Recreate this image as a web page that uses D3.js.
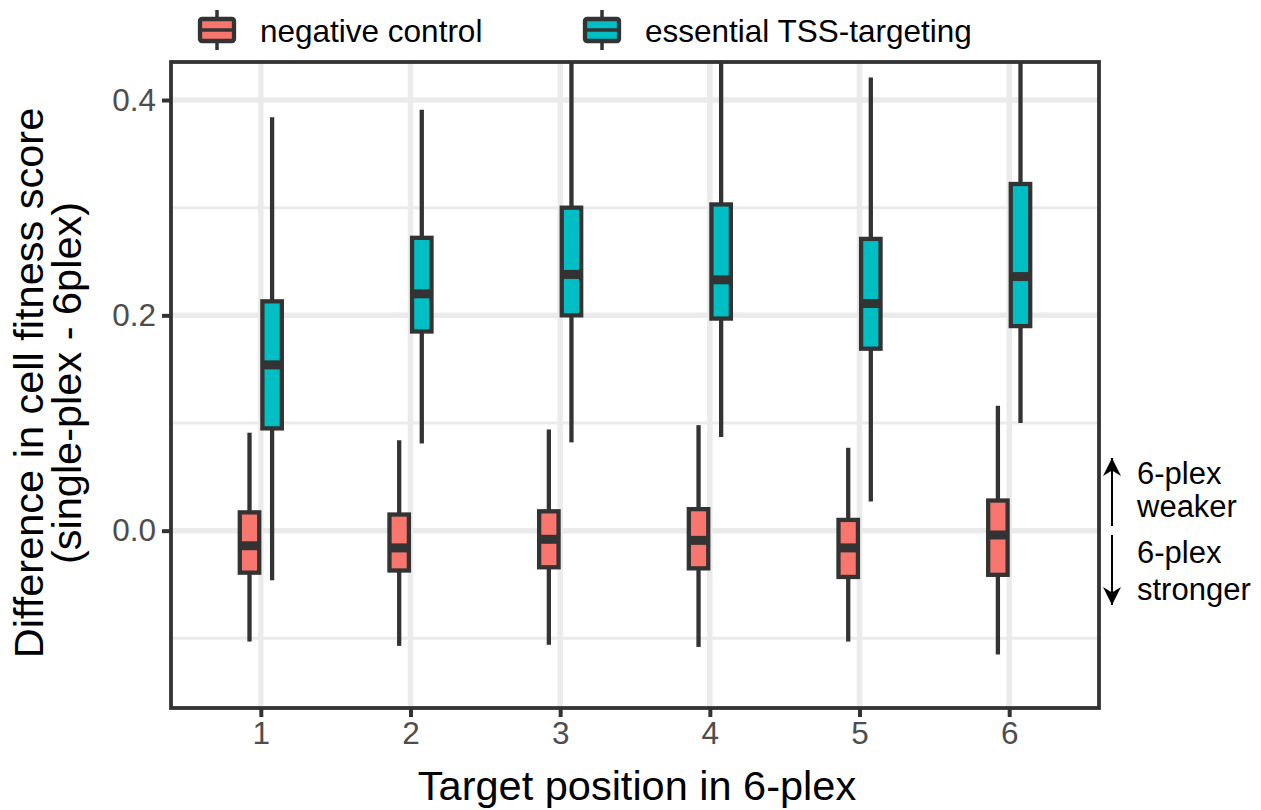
<!DOCTYPE html>
<html>
<head>
<meta charset="utf-8">
<script src="https://cdn.jsdelivr.net/npm/d3@7"></script>
<style>
  body { margin: 0; background: #fff; }
  text { font-family: "Liberation Sans", Arial, sans-serif; }
</style>
</head>
<body>
<svg width="1261" height="810"></svg>
<script>
const positions = ["1", "2", "3", "4", "5", "6"];
const groups = ["negative control", "essential TSS-targeting"];
const yTicks = [0, 0.2, 0.4];
const yMinor = [-0.1, 0.1, 0.3];

// five-number summaries per position: [lower whisker, q1, median, q3, upper whisker]
const negative = [
    [-0.103, -0.039, -0.014, 0.017, 0.091],
    [-0.107, -0.037, -0.016, 0.015, 0.084],
    [-0.106, -0.034, -0.008, 0.018, 0.094],
    [-0.108, -0.035, -0.009, 0.020, 0.098],
    [-0.103, -0.043, -0.016, 0.010, 0.077],
    [-0.115, -0.041, -0.004, 0.028, 0.116]
];
const essential = [
    [-0.046, 0.095, 0.154, 0.213, 0.384],
    [0.081, 0.185, 0.220, 0.272, 0.391],
    [0.082, 0.200, 0.238, 0.300, 0.470],
    [0.087, 0.197, 0.233, 0.303, 0.470],
    [0.027, 0.169, 0.211, 0.271, 0.421],
    [0.100, 0.190, 0.236, 0.322, 0.470]
];
const colors = ["#F8766D", "#00BFC4"];

const panel = {left: 171, right: 1099, top: 62, bottom: 708};
const dark = "#333333";

const svg = d3.select("svg");

const x = d3.scalePoint()
    .domain(positions)
    .range([panel.left, panel.right])
    .padding(0.6);

const dodge = d3.scaleBand()
    .domain(groups)
    .range([-x.step() * 0.151, x.step() * 0.151]);

const boxW = dodge.bandwidth() * 0.86;

const y = d3.scaleLinear()
    .domain([-0.1647, 0.4353])
    .range([panel.bottom, panel.top]);

// grid
const grid = svg.append("g");
grid.selectAll(".minor")
    .data(yMinor)
    .enter().append("line")
    .attr("x1", panel.left).attr("x2", panel.right)
    .attr("y1", d => y(d)).attr("y2", d => y(d))
    .attr("stroke", "#ebebeb").attr("stroke-width", 3);
grid.selectAll(".majory")
    .data(yTicks)
    .enter().append("line")
    .attr("x1", panel.left).attr("x2", panel.right)
    .attr("y1", d => y(d)).attr("y2", d => y(d))
    .attr("stroke", "#ebebeb").attr("stroke-width", 5.5);
grid.selectAll(".majorx")
    .data(positions)
    .enter().append("line")
    .attr("x1", d => x(d)).attr("x2", d => x(d))
    .attr("y1", panel.top).attr("y2", panel.bottom)
    .attr("stroke", "#ebebeb").attr("stroke-width", 5.5);

svg.append("clipPath").attr("id", "clip")
    .append("rect")
    .attr("x", panel.left).attr("y", panel.top)
    .attr("width", panel.right - panel.left)
    .attr("height", panel.bottom - panel.top);

const series = groups.map((g, i) => ({
    group: g,
    color: colors[i],
    stats: (i == 0 ? negative : essential).map((s, j) => ({pos: positions[j], s: s}))
}));

const plot = svg.append("g").attr("clip-path", "url(#clip)");

series.forEach(ser => {
    const g = plot.append("g");
    const cx = d => x(d.pos) + dodge(ser.group) + dodge.bandwidth() / 2;

    g.selectAll(".whisk-lo")
        .data(ser.stats)
        .enter().append("line")
        .attr("x1", cx).attr("x2", cx)
        .attr("y1", d => y(d.s[0])).attr("y2", d => y(d.s[1]))
        .attr("stroke", dark).attr("stroke-width", 4.3);

    g.selectAll(".whisk-hi")
        .data(ser.stats)
        .enter().append("line")
        .attr("x1", cx).attr("x2", cx)
        .attr("y1", d => y(d.s[3])).attr("y2", d => y(d.s[4]))
        .attr("stroke", dark).attr("stroke-width", 4.3);

    g.selectAll("rect")
        .data(ser.stats)
        .enter().append("rect")
        .attr("x", d => cx(d) - boxW / 2)
        .attr("width", boxW)
        .attr("y", d => y(d.s[3]))
        .attr("height", d => y(d.s[1]) - y(d.s[3]))
        .attr("fill", ser.color)
        .attr("stroke", dark).attr("stroke-width", 4.3);

    g.selectAll(".median")
        .data(ser.stats)
        .enter().append("line")
        .attr("x1", d => cx(d) - boxW / 2).attr("x2", d => cx(d) + boxW / 2)
        .attr("y1", d => y(d.s[2])).attr("y2", d => y(d.s[2]))
        .attr("stroke", dark).attr("stroke-width", 9);
});

// panel border
svg.append("rect")
    .attr("x", panel.left).attr("y", panel.top)
    .attr("width", panel.right - panel.left)
    .attr("height", panel.bottom - panel.top)
    .attr("fill", "none")
    .attr("stroke", dark).attr("stroke-width", 3.8);

// axes
const xAxis = svg.append("g")
    .attr("transform", `translate(0,${panel.bottom})`)
    .call(d3.axisBottom(x).tickSize(9).tickPadding(5));
const yAxis = svg.append("g")
    .attr("transform", `translate(${panel.left},0)`)
    .call(d3.axisLeft(y).tickValues(yTicks).tickFormat(d3.format(".1f")).tickSize(9).tickPadding(6));

[xAxis, yAxis].forEach(a => {
    a.select(".domain").remove();
    a.selectAll(".tick line").attr("stroke", dark).attr("stroke-width", 4);
    a.selectAll(".tick text")
        .attr("fill", "#4d4d4d")
        .style("font-size", "31.5px")
        .style("font-family", "Liberation Sans, Arial, sans-serif");
});

// axis titles
svg.append("text")
    .attr("x", (panel.left + panel.right) / 2 + 2)
    .attr("y", 800)
    .attr("text-anchor", "middle")
    .style("font-size", "41.5px")
    .text("Target position in 6-plex");

const yTitle = svg.append("text")
    .attr("transform", `translate(43,${(panel.top + panel.bottom) / 2 - 2}) rotate(-90)`)
    .attr("text-anchor", "middle")
    .style("font-size", "41.5px");
yTitle.append("tspan").attr("x", 0).attr("y", 0).text("Difference in cell fitness score");
yTitle.append("tspan").attr("x", 0).attr("y", 38).text("(single-plex - 6plex)");

// legend
const keyX = [217, 602];
const legend = svg.append("g");
groups.forEach((g, i) => {
    const k = legend.append("g").attr("transform", `translate(${keyX[i]},30)`);
    k.append("line").attr("x1", 0).attr("x2", 0).attr("y1", -20).attr("y2", 20)
        .attr("stroke", dark).attr("stroke-width", 3.5);
    k.append("rect").attr("x", -17).attr("y", -11).attr("width", 34).attr("height", 22)
        .attr("rx", 2)
        .attr("fill", colors[i]).attr("stroke", dark).attr("stroke-width", 4.3);
    k.append("line").attr("x1", -17).attr("x2", 17).attr("y1", 0).attr("y2", 0)
        .attr("stroke", dark).attr("stroke-width", 3.5);
    legend.append("text")
        .attr("x", keyX[i] + 43)
        .attr("y", 42)
        .style("font-size", "31.5px")
        .text(g);
});

// direction annotation
const ann = svg.append("g");
svg.append("defs").append("marker")
    .attr("id", "arrowhead")
    .attr("viewBox", "0 0 10 10")
    .attr("refX", 10).attr("refY", 5)
    .attr("markerUnits", "userSpaceOnUse")
    .attr("markerWidth", 18).attr("markerHeight", 18)
    .attr("orient", "auto")
    .append("path").attr("d", "M0,0 L10,5 L0,10 L3,5 Z").attr("fill", "#000");
ann.append("line").attr("x1", 1112).attr("x2", 1112).attr("y1", 526).attr("y2", 458)
    .attr("stroke", "#000").attr("stroke-width", 2).attr("marker-end", "url(#arrowhead)");
ann.append("line").attr("x1", 1112).attr("x2", 1112).attr("y1", 535).attr("y2", 605)
    .attr("stroke", "#000").attr("stroke-width", 2).attr("marker-end", "url(#arrowhead)");
const annText = [["6-plex", 484], ["weaker", 517], ["6-plex", 563], ["stronger", 600]];
ann.selectAll("text")
    .data(annText)
    .enter().append("text")
    .attr("x", 1137)
    .attr("y", d => d[1])
    .style("font-size", "31px")
    .text(d => d[0]);
</script>
</body>
</html>
